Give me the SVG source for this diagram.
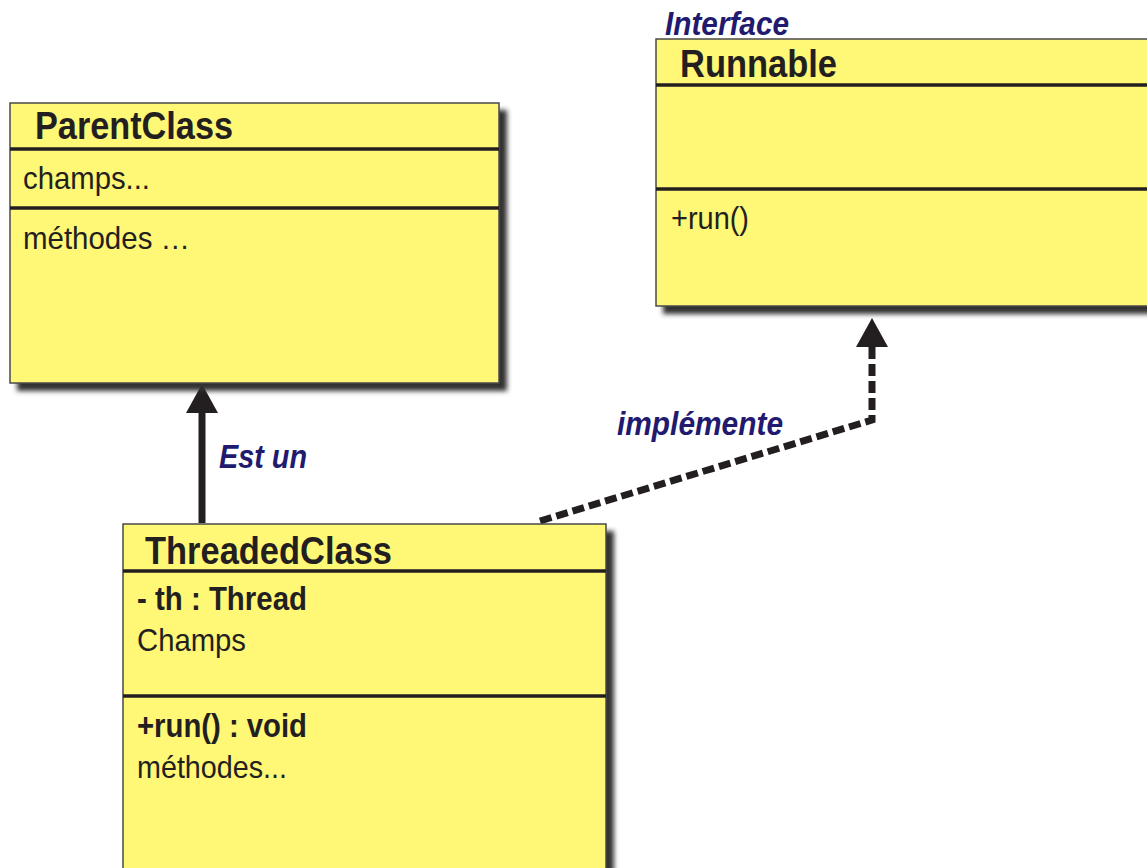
<svg xmlns="http://www.w3.org/2000/svg" width="1147" height="868" viewBox="0 0 1147 868">
  <style>
    .box { fill: #fff776; stroke: #4a4a4a; stroke-width: 1.5; }
    .shadow { fill: #333; filter: url(#soft); }
    .sep { stroke: #231f20; stroke-width: 3.5; }
    .title { font-family: "Liberation Sans", Arial, sans-serif; font-weight: bold; font-size: 38px; fill: #231f20; }
    .item { font-family: "Liberation Sans", Arial, sans-serif; font-size: 32px; fill: #231f20; }
    .item-b { font-family: "Liberation Sans", Arial, sans-serif; font-weight: bold; font-size: 33px; fill: #231f20; }
    .label { font-family: "Liberation Sans", Arial, sans-serif; font-weight: bold; font-style: italic; font-size: 33px; fill: #211a6e; }
    .link { fill: none; stroke: #231f20; stroke-width: 7; }
    .dashed { stroke-dasharray: 12 5; }
  </style>
  <defs>
    <filter id="soft" x="-10%" y="-10%" width="120%" height="120%">
      <feGaussianBlur stdDeviation="2.5"/>
    </filter>
    <marker id="head" viewBox="0 0 29 32" refX="0" refY="16" markerWidth="29" markerHeight="32" markerUnits="userSpaceOnUse" orient="auto">
      <path d="M0,0 L29,16 L0,32 z" fill="#231f20"/>
    </marker>
  </defs>

  <rect width="1147" height="868" fill="#ffffff"/>

  <!-- connectors -->
  <g id="connectors">
    <path class="link" d="M202,523 L202,413" marker-end="url(#head)"/>
    <path class="link dashed" d="M540,521 L872,420 L872,347" marker-end="url(#head)"/>
    <text class="label" x="219" y="468" textLength="88" lengthAdjust="spacingAndGlyphs">Est un</text>
    <text class="label" x="617" y="435" textLength="166" lengthAdjust="spacingAndGlyphs">implémente</text>
  </g>

  <!-- ParentClass -->
  <g id="parent-class">
    <rect class="shadow" x="17" y="110" width="490" height="281"/>
    <rect class="box" x="10" y="103" width="489" height="280"/>
    <line class="sep" x1="10" y1="149" x2="499" y2="149"/>
    <line class="sep" x1="10" y1="208" x2="499" y2="208"/>
    <text class="title" x="35" y="139" textLength="198" lengthAdjust="spacingAndGlyphs">ParentClass</text>
    <text class="item" x="23" y="189" textLength="127" lengthAdjust="spacingAndGlyphs">champs...</text>
    <text class="item" x="23" y="249" textLength="167" lengthAdjust="spacingAndGlyphs">méthodes …</text>
  </g>

  <!-- Runnable interface -->
  <g id="runnable">
    <text class="label" x="665" y="35" textLength="124" lengthAdjust="spacingAndGlyphs">Interface</text>
    <rect class="shadow" x="663" y="46" width="500" height="268"/>
    <rect class="box" x="656" y="39" width="500" height="267"/>
    <line class="sep" x1="656" y1="85" x2="1147" y2="85"/>
    <line class="sep" x1="656" y1="189" x2="1147" y2="189"/>
    <text class="title" x="680" y="77" textLength="157" lengthAdjust="spacingAndGlyphs">Runnable</text>
    <text class="item" x="671" y="229" textLength="78" lengthAdjust="spacingAndGlyphs">+run()</text>
  </g>

  <!-- ThreadedClass -->
  <g id="threaded-class">
    <rect class="shadow" x="130" y="531" width="484" height="360"/>
    <rect class="box" x="123" y="524" width="483" height="360"/>
    <line class="sep" x1="123" y1="571" x2="606" y2="571"/>
    <line class="sep" x1="123" y1="696" x2="606" y2="696"/>
    <text class="title" x="145" y="564" textLength="247" lengthAdjust="spacingAndGlyphs">ThreadedClass</text>
    <text class="item-b" x="137" y="610" textLength="170" lengthAdjust="spacingAndGlyphs">- th : Thread</text>
    <text class="item" x="137" y="651" textLength="109" lengthAdjust="spacingAndGlyphs">Champs</text>
    <text class="item-b" x="137" y="737" textLength="170" lengthAdjust="spacingAndGlyphs">+run() : void</text>
    <text class="item" x="137" y="778" textLength="150" lengthAdjust="spacingAndGlyphs">méthodes...</text>
  </g>
</svg>
